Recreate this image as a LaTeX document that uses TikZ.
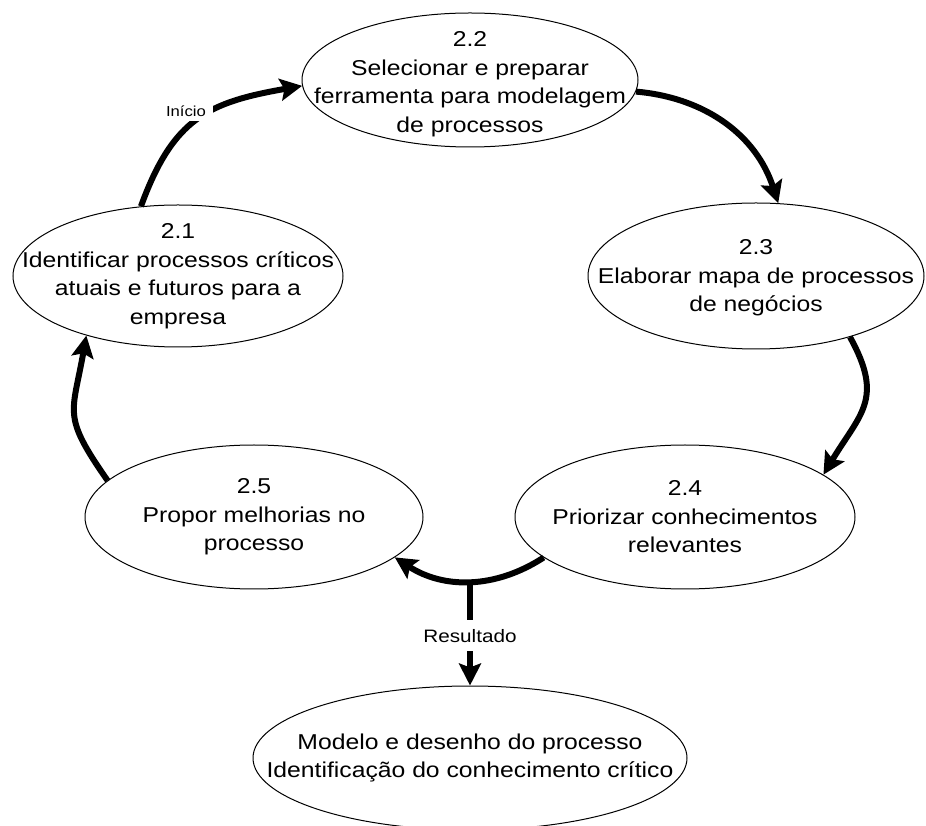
\documentclass[tikz,border=0pt]{standalone}
\usepackage{fontspec}
\setmainfont[FakeStretch=1.15]{Liberation Sans}
\usetikzlibrary{arrows.meta,shapes.geometric}
\begin{document}
\begin{tikzpicture}[x=1pt,y=1pt,
  proc/.style={draw, ellipse, line width=1pt, inner sep=0pt},
  txt/.style={align=center, inner sep=0pt, font=\fontsize{21.5}{28.5}\selectfont},
  flow/.style={line width=6pt, -{Stealth[length=22pt,width=22pt,inset=4pt]}},
  lbl/.style={fill=white, inner sep=0pt}
]
\useasboundingbox (0,0) rectangle (926,825);

% process ellipses
\node[proc, minimum width=336pt, minimum height=134pt] (e22) at (470,745) {};
\node[proc, minimum width=330pt, minimum height=142pt] (e21) at (178,549) {};
\node[proc, minimum width=336pt, minimum height=146pt] (e23) at (756,549) {};
\node[proc, minimum width=340pt, minimum height=144pt] (e24) at (685,308) {};
\node[proc, minimum width=338pt, minimum height=144pt] (e25) at (254,308) {};
\node[proc, minimum width=434pt, minimum height=144pt] (eres) at (470,67) {};

% texts
\node[txt] (t22) at ([yshift=-4pt]e22.center) {2.2\\Selecionar e preparar\\ferramenta para modelagem\\de processos};
\node[txt] (t21) at (e21.center) {2.1\\Identificar processos críticos\\atuais e futuros para a\\empresa};
\node[txt] (t23) at ([yshift=-2pt]e23.center) {2.3\\Elaborar mapa de processos\\de negócios};
\node[txt] (t24) at (e24.center) {2.4\\Priorizar conhecimentos\\relevantes};
\node[txt] (t25) at (e25.center) {2.5\\Propor melhorias no\\processo};
\node[txt] (tres) at (eres.center) {Modelo e desenho do processo\\Identificação do conhecimento crítico};

% cycle arrows
\draw[flow] (e21.118) to[out=70, in=190, looseness=1.2] (e22.182);
\node[lbl, inner xsep=7pt, inner ysep=5pt, font=\fontsize{14.5}{16}\selectfont] (inicio) at (186,714) {Início};
\draw[flow] (e22.-4) to[out=-5, in=108] (e23.73);
\draw[flow] (e23.-33) to[out=-61, in=59, looseness=1.3] (e24.17);
\draw[flow] (e24.196) to[out=213, in=-33] (e25.-16);
\draw[flow] (e25.166) to[out=125, in=-100, looseness=1.4] (e21.213);

% result branch
\coordinate (jn) at (470,243);
\draw[flow] (jn) -- (jn |- eres.north)
  node[lbl, pos=0.52, inner xsep=2pt, inner ysep=9pt, font=\fontsize{18}{20}\selectfont] (res) {Resultado};
\end{tikzpicture}
\end{document}
